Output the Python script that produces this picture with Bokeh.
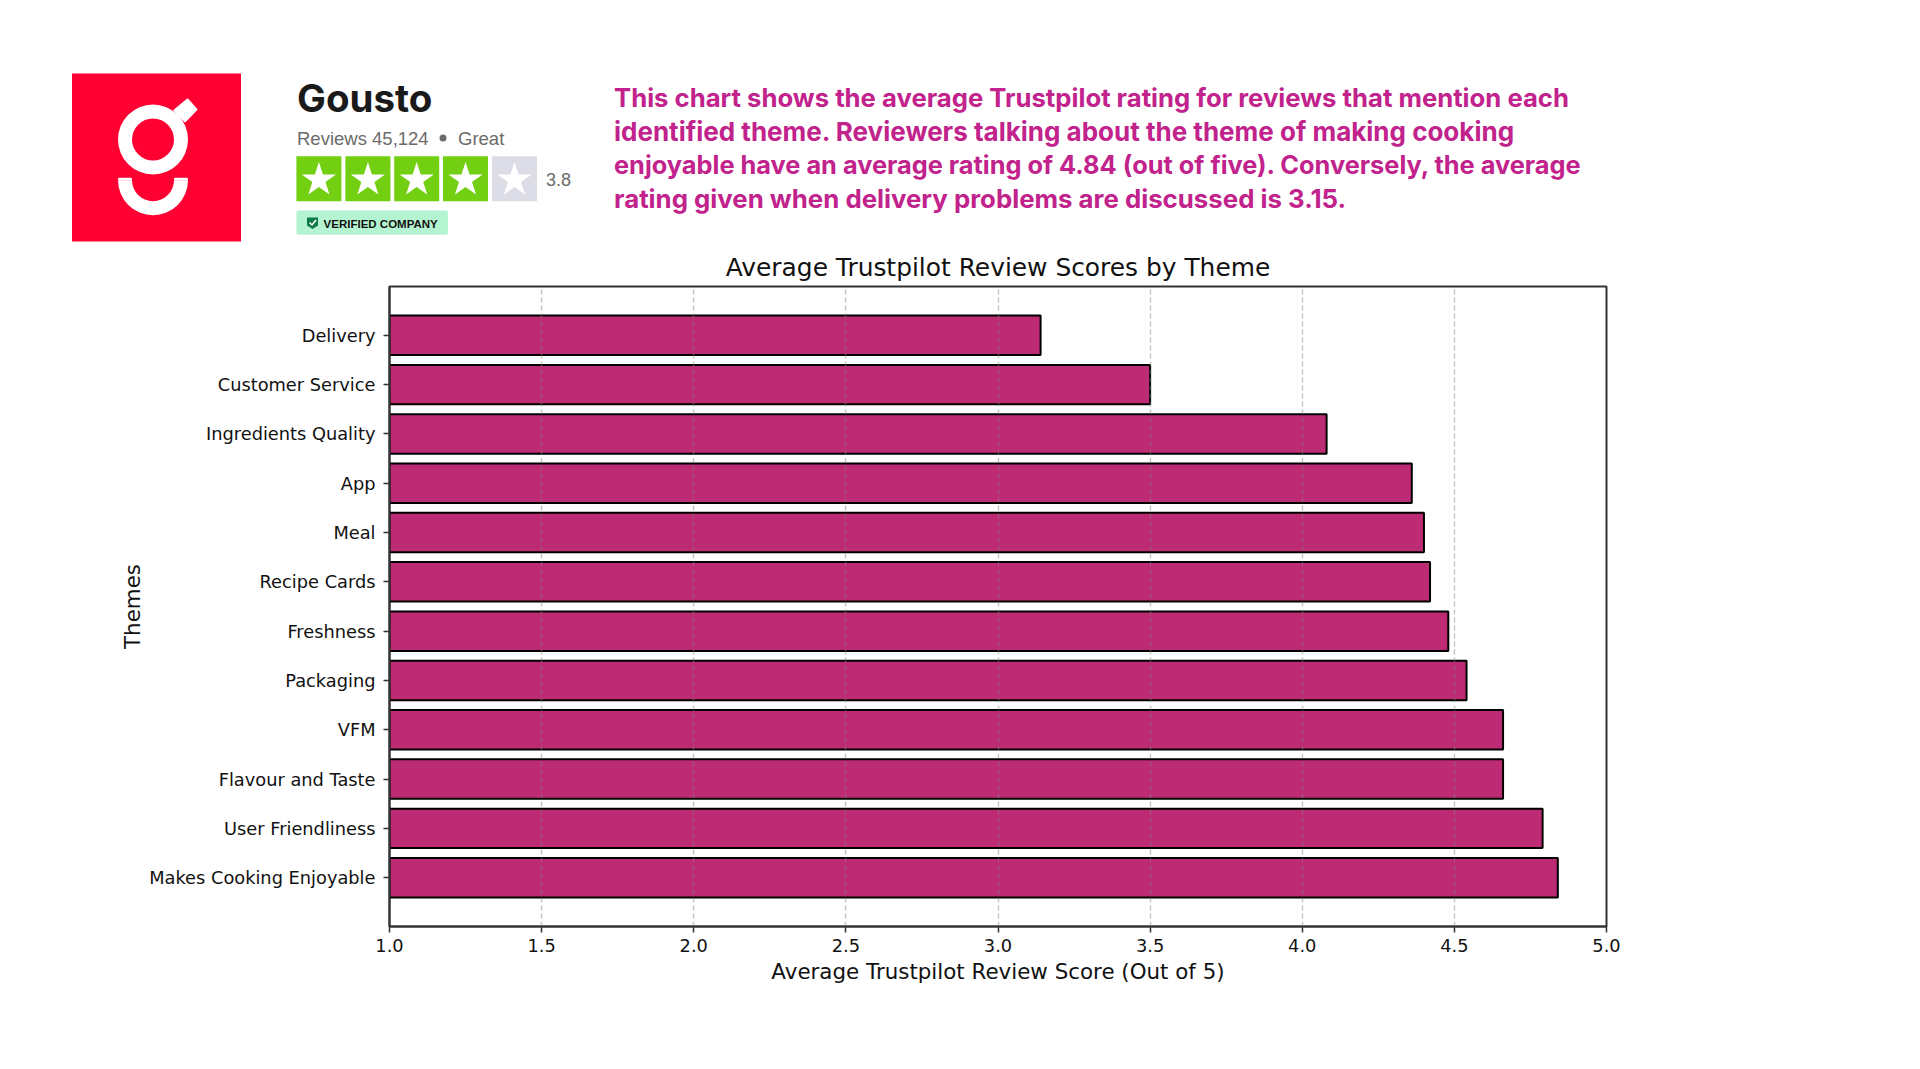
from bokeh.plotting import figure
from bokeh.layouts import column
from bokeh.models import Range1d, FactorRange, FixedTicker, NumeralTickFormatter
from bokeh.core.properties import value
from bokeh.embed import file_html
from bokeh.resources import INLINE

themes = ["Delivery", "Customer Service", "Ingredients Quality", "App", "Meal", "Recipe Cards",
          "Freshness", "Packaging", "VFM", "Flavour and Taste", "User Friendliness", "Makes Cooking Enjoyable"]
scores = [3.14, 3.50, 4.08, 4.36, 4.40, 4.42, 4.48, 4.54, 4.66, 4.66, 4.79, 4.84]
x_ticks = [1.0, 1.5, 2.0, 2.5, 3.0, 3.5, 4.0, 4.5, 5.0]
chart_title = "Average Trustpilot Review Scores by Theme"
x_label = "Average Trustpilot Review Score (Out of 5)"
y_label = "Themes"
note_lines = [
    "This chart shows the average Trustpilot rating for reviews that mention each",
    "identified theme. Reviewers talking about the theme of making cooking",
    "enjoyable have an average rating of 4.84 (out of five). Conversely, the average",
    "rating given when delivery problems are discussed is 3.15.",
]
star_fill = ["#73CF11", "#73CF11", "#73CF11", "#73CF11", "#DCDCE6"]

BAR = "#BD2B74"
NOTE = "#C1228C"

# ---------- header strip: ranges equal page pixels ----------
head = figure(width=1904, height=244, x_range=Range1d(0.5, 1904.5), y_range=Range1d(245, 1),
              output_backend="svg", toolbar_location=None, min_border=0)
head.frame_align = False
head.axis.visible = False
head.grid.visible = False
head.outline_line_color = None

def txt(x, y, s, size, color, font, style="normal", align="left"):
    head.text([x], [y], text=[s], text_font=value(font), text_font_size=f"{size}px",
              text_font_style=style, text_color=color, text_align=align, text_baseline="middle")

# logo
RED = "#FF0033"
head.quad(left=[72], right=[241], top=[74], bottom=[242], fill_color=RED, line_color=None)
head.annulus([153], [140], inner_radius=21, outer_radius=35, fill_color="white", line_color=None)
head.patch([174.3, 187.5, 196.4, 185], [111, 100, 110, 121.7], fill_color="white",
           line_color="white", line_width=2, line_join="round")
head.annular_wedge([153], [180.7], inner_radius=21, outer_radius=35, start_angle=3.14159, end_angle=6.28318,
                   fill_color="white", line_color=None)
head.quad(left=[118, 174], right=[132, 188], top=[178.3, 178.3], bottom=[181, 181],
          fill_color="white", line_color=None, border_radius=2)

# Trustpilot block
txt(297, 98, "Gousto", 38.5, "#1a1a1a", "Inter", "bold")
txt(297, 138.5, "Reviews 45,124", 18.5, "#6b6b6b", "Liberation Sans")
head.scatter([443], [138.5], size=7, marker="circle", fill_color="#6b6b6b", line_color=None)
txt(458, 138.5, "Great", 18.5, "#6b6b6b", "Liberation Sans")
lefts = [296.4, 345.4, 394.2, 443.0, 492.0]
head.quad(left=lefts, right=[l + 45 for l in lefts], top=[156.7] * 5, bottom=[201.7] * 5,
          fill_color=star_fill, line_color=None)
head.scatter([l + 22.5 for l in lefts], [180.5] * 5, size=36, marker="star", fill_color="white", line_color=None)
txt(546, 179.5, "3.8", 18, "#6b6b6b", "Liberation Sans")
head.quad(left=[296.4], right=[448], top=[211], bottom=[235.3], fill_color="#B5F4D0", line_color=None, border_radius=2)
head.patch([307, 318, 318, 312.5, 307], [218, 218, 226, 229.5, 226], fill_color="#0E7C4A", line_color=None)
head.line([309.5, 312, 316], [223, 225.5, 220.5], line_color="white", line_width=1.5)
txt(323.6, 224, "VERIFIED COMPANY", 11.5, "#111111", "Liberation Sans", "bold")

# note
for y, s, sz in zip([98, 131.6, 165.3, 199], note_lines, [25.7, 26.0, 25.35, 25.8]):
    txt(614, y, s, sz, NOTE, "Inter", "bold")

# ---------- chart ----------
p = figure(width=1904, height=817, y_range=FactorRange(factors=list(reversed(themes)), range_padding=0.49,
           range_padding_units="absolute"), x_range=Range1d(1.0, 5.0),
           output_backend="svg", toolbar_location=None,
           title=chart_title, x_axis_label=x_label, y_axis_label=y_label,
           min_border_left=389, min_border_right=298, min_border_top=42, min_border_bottom=135)
p.frame_align = False

p.hbar(y=themes, left=1.0, right=scores, height=0.8, fill_color=BAR, line_color="black", line_width=2)

p.title.align = "center"
p.title.text_font = "DejaVu Sans"
p.title.text_font_size = "24.9px"
p.title.text_font_style = "normal"
p.title.text_color = "#111111"
p.title.standoff = 10

for ax in (p.xaxis[0], p.yaxis[0]):
    ax.axis_label_text_font = "DejaVu Sans"
    ax.axis_label_text_font_style = "normal"
    ax.axis_label_text_font_size = "21.4px"
    ax.axis_label_text_color = "#111111"
    ax.major_label_text_font = "DejaVu Sans"
    ax.major_label_text_font_size = "17.8px"
    ax.major_label_text_color = "#111111"
    ax.axis_line_color = "#333333"
    ax.axis_line_width = 2
    ax.major_tick_line_color = "#333333"
    ax.major_tick_line_width = 1.5
    ax.major_tick_in = 0
    ax.major_tick_out = 6
    ax.minor_tick_line_color = None

p.xaxis.ticker = FixedTicker(ticks=x_ticks)
p.xaxis.formatter = NumeralTickFormatter(format="0.0")
p.xaxis.major_label_standoff = 6
p.xaxis.axis_label_standoff = 4
p.yaxis.major_label_standoff = 8
p.yaxis.axis_label_standoff = 1
p.ygrid.visible = False
p.xgrid.grid_line_color = "#808080"
p.xgrid.grid_line_alpha = 0.45
p.xgrid.grid_line_dash = "5 3"
p.xgrid.grid_line_width = 1.4
p.xgrid.level = "overlay"
p.outline_line_color = "#333333"
p.outline_line_width = 2

page = column(head, p, spacing=0)
open("out.html", "w").write(file_html(page, INLINE))
